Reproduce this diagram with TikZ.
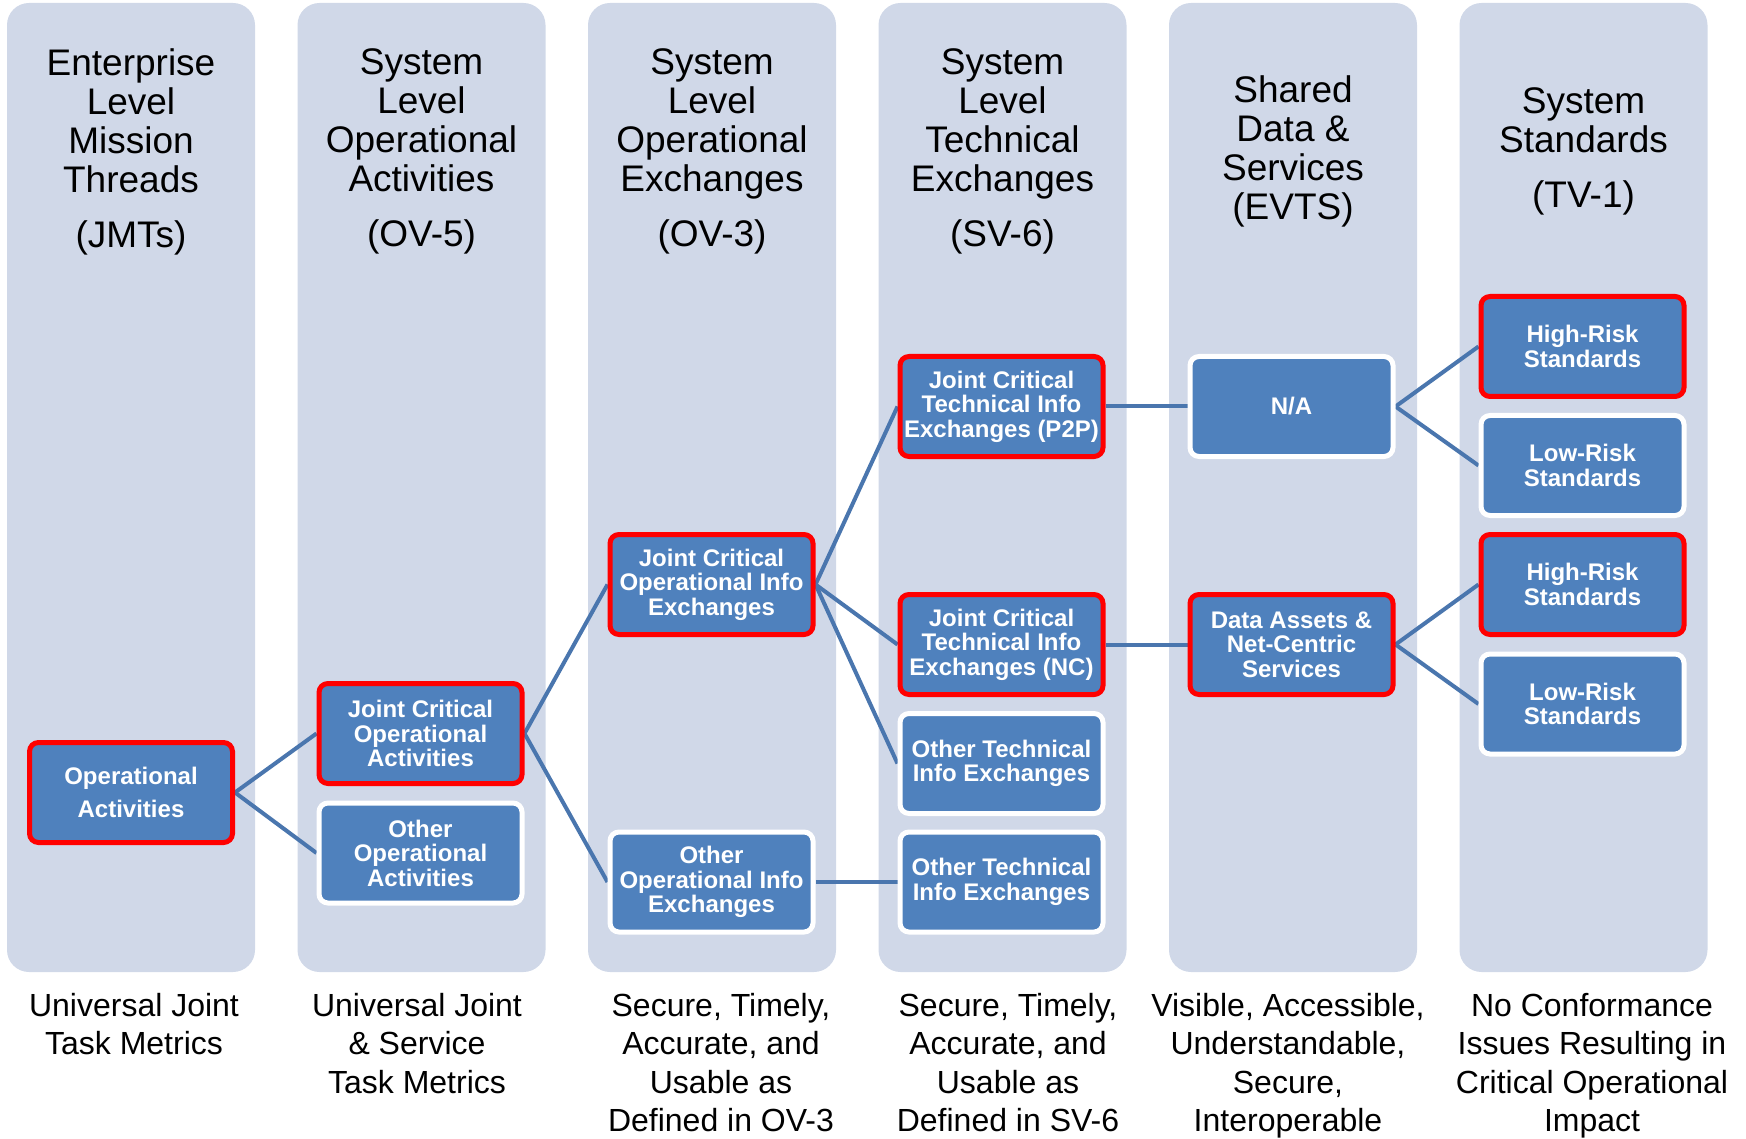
\documentclass[tikz,border=0pt]{standalone}
\usepackage{fontspec}
\setmainfont{Liberation Sans}
\definecolor{colbg}{HTML}{D0D8E8}
\definecolor{boxblue}{HTML}{4F81BD}
\definecolor{hotred}{HTML}{FF0000}
\definecolor{linkblue}{HTML}{4A76AE}
\pgfdeclarelayer{cols}
\pgfdeclarelayer{links}
\pgfsetlayers{cols,links,main}
\begin{document}
\begin{tikzpicture}[x=1pt,y=-1pt,
  box/.style={fill=boxblue, line width=5pt, rounded corners=9pt, minimum width=203pt, minimum height=100pt, inner sep=0pt, align=center, text=white, font=\fontsize{24}{24.5}\selectfont\bfseries},
  hot/.style={box, draw=hotred},
  plain/.style={box, draw=white},
  link/.style={draw=linkblue, line width=4pt},
  title/.style={anchor=north, align=center, inner sep=0pt, font=\fontsize{37}{39}\selectfont},
  foot/.style={anchor=north, align=center, inner sep=0pt, font=\fontsize{32}{38.5}\selectfont}]
\useasboundingbox (0,0) rectangle (1746,1139);
\begin{pgfonlayer}{cols}
\foreach \i in {0,...,5}
  \fill[colbg, rounded corners=22pt] ({7+290.5*\i},3) rectangle ({255+290.5*\i},972);
\end{pgfonlayer}

% titles
\node[title] (t1) at (131,48.5) {Enterprise\\Level\\Mission\\Threads\\[16pt](JMTs)};
\node[title] (t2) at (421.5,48.5) {System\\Level\\Operational\\Activities\\[16pt](OV-5)};
\node[title] (t3) at (712,48.5) {System\\Level\\Operational\\Exchanges\\[16pt](OV-3)};
\node[title] (t4) at (1002.5,48.5) {System\\Level\\Technical\\Exchanges\\[16pt](SV-6)};
\node[title] (t5) at (1293,75.5) {Shared\\Data \&\\Services\\(EVTS)};
\node[title] (t6) at (1583.5,87.5) {System\\Standards\\[16pt](TV-1)};

% boxes
\node[hot, font=\fontsize{24}{33}\selectfont\bfseries] (oa) at (131,792.5) {Operational\\Activities};
\node[hot]   (jcoa)  at (420.5,733.5) {Joint Critical\\Operational\\Activities};
\node[plain] (ooa)   at (420.5,853)   {Other\\Operational\\Activities};
\node[hot]   (jcoie) at (711.5,584.5) {Joint Critical\\Operational Info\\Exchanges};
\node[plain] (ooie)  at (711.5,882)   {Other\\Operational Info\\Exchanges};
\node[hot]   (p2p)   at (1001.5,406.5) {Joint Critical\\Technical Info\\Exchanges (P2P)};
\node[hot]   (nc)    at (1001.5,644.5) {Joint Critical\\Technical Info\\Exchanges (NC)};
\node[plain] (otie1) at (1001.5,763.5) {Other Technical\\Info Exchanges};
\node[plain] (otie2) at (1001.5,882)   {Other Technical\\Info Exchanges};
\node[plain] (na)    at (1291.5,406.5) {N/A};
\node[hot]   (da)    at (1291.5,644.5) {Data Assets \&\\Net-Centric\\Services};
\node[hot]   (hr1)   at (1582.5,346.5) {High-Risk\\Standards};
\node[plain] (lr1)   at (1582.5,465.5) {Low-Risk\\Standards};
\node[hot]   (hr2)   at (1582.5,584.5) {High-Risk\\Standards};
\node[plain] (lr2)   at (1582.5,704)   {Low-Risk\\Standards};

% connectors
\begin{pgfonlayer}{links}
\draw[link] (oa.east) -- (jcoa.west);
\draw[link] (oa.east) -- (ooa.west);
\draw[link] (jcoa.east) -- (jcoie.west);
\draw[link] (jcoa.east) -- (ooie.west);
\draw[link] (jcoie.east) -- (p2p.west);
\draw[link] (jcoie.east) -- (nc.west);
\draw[link] (jcoie.east) -- (otie1.west);
\draw[link] (ooie.east) -- (otie2.west);
\draw[link] (p2p.east) -- (na.west);
\draw[link] (nc.east) -- (da.west);
\draw[link] (na.east) -- (hr1.west);
\draw[link] (na.east) -- (lr1.west);
\draw[link] (da.east) -- (hr2.west);
\draw[link] (da.east) -- (lr2.west);
\end{pgfonlayer}

% footers
\node[foot] (f1) at (134,993)  {Universal Joint\\Task Metrics};
\node[foot] (f2) at (417,993)  {Universal Joint\\\& Service\\Task Metrics};
\node[foot] (f3) at (721,993)  {Secure, Timely,\\Accurate, and\\Usable as\\Defined in OV-3};
\node[foot] (f4) at (1008,993) {Secure, Timely,\\Accurate, and\\Usable as\\Defined in SV-6};
\node[foot] (f5) at (1288,993) {Visible, Accessible,\\Understandable,\\Secure,\\Interoperable};
\node[foot] (f6) at (1592,993) {No Conformance\\Issues Resulting in\\Critical Operational\\Impact};
\end{tikzpicture}
\end{document}
